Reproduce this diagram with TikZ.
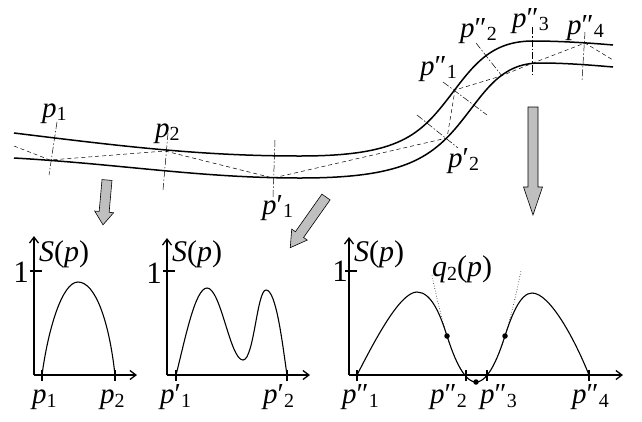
\documentclass[tikz,border=0pt]{standalone}
\usepackage{fontspec}
\setmainfont{Liberation Serif}
\usetikzlibrary{arrows.meta}
\newcommand\sbs[1]{\raisebox{-0.3ex}{\fontsize{20}{20}\selectfont #1}}
\newcommand\pl[2]{{\itshape p}#1\sbs{#2}}
\begin{document}
\begin{tikzpicture}[x=1pt,y=-1pt,
  road/.style={line width=1.5pt},
  zig/.style={line width=0.5pt, dash pattern=on 4pt off 3pt},
  normal/.style={line width=0.5pt, dash pattern=on 7pt off 2pt on 1.5pt off 2pt},
  axis/.style={line width=1.3pt,-{Straight Barb[length=6pt,width=9pt]}},
  tick/.style={line width=1.3pt},
  curve/.style={line width=1.1pt},
  lbl/.style={inner sep=0pt, anchor=base west, font=\fontsize{29}{29}\selectfont},
  slbl/.style={inner sep=0pt, anchor=base west, font=\fontsize{30}{30}\selectfont},
  one/.style={inner sep=0pt, anchor=base east, font=\fontsize{31}{31}\selectfont},
  dot/.style={circle, fill=black, inner sep=0pt, minimum size=5.5pt},
  pics/fatarrow/.style args={#1/#2}{code={
    \draw[fill=black!25, line width=0.6pt] (0,-5) -- ({#1-#2},-5) -- ({#1-#2},-9.5) -- (#1,0) -- ({#1-#2},9.5) -- ({#1-#2},5) -- (0,5) -- cycle;}}
]
\useasboundingbox (0,0) rectangle (642,421);

% ---------------- road ----------------
\coordinate (u0) at (14,133);
\coordinate (u1) at (300,156);
\coordinate (u2) at (450,96);
\coordinate (u3) at (533,41);
\coordinate (u4) at (613,45);
\coordinate (l0) at (14,158);
\coordinate (l1) at (300,178);
\coordinate (l2) at (460,123);
\coordinate (l3) at (540,63);
\coordinate (l4) at (613,67);
\draw[road] (u0) .. controls (120,146) and (200,156) .. (u1) .. controls (400,156) and (420,135) .. (u2) .. controls (473,66) and (490,41) .. (u3) .. controls (560,41) and (590,43) .. (u4);
\draw[road] (l0) .. controls (120,164) and (200,178) .. (l1) .. controls (400,178) and (430,160) .. (l2) .. controls (485,92) and (500,63) .. (l3) .. controls (565,63) and (590,65) .. (l4);

\coordinate (z0) at (14,146);
\coordinate (P1) at (50,160);
\coordinate (P2) at (165,151);
\coordinate (Q1) at (273,178);
\coordinate (Q2) at (447,138);
\coordinate (R1) at (455,90);
\coordinate (R2) at (501,76);
\coordinate (R3) at (533,63);
\coordinate (R4) at (585,43);
\coordinate (z9) at (613,60);
\draw[zig] (z0) -- (P1) -- (P2) -- (Q1) -- (Q2) -- (R1) -- (R2) -- (R3) -- (R4) -- (z9);

% normals
\coordinate (n1a) at (57,122); \coordinate (n1b) at (49,175);
\coordinate (n2a) at (168,133); \coordinate (n2b) at (163,190);
\coordinate (n3a) at (275,140); \coordinate (n3b) at (273,197);
\coordinate (n4a) at (417,115); \coordinate (n4b) at (458,148);
\coordinate (n5a) at (443,82); \coordinate (n5b) at (487,115);
\coordinate (n6a) at (476,43); \coordinate (n6b) at (502,76);
\coordinate (n7a) at (532,27); \coordinate (n7b) at (532,75);
\coordinate (n8a) at (585,32); \coordinate (n8b) at (582,80);
\foreach \k in {1,...,8} {\draw[normal] (n\k a) -- (n\k b);}

% labels on the road
\node[lbl] (tp1) at (42,117) {\pl{}{1}};
\node[lbl] (tp2) at (155,137) {\pl{}{2}};
\node[lbl] (tq1) at (262,214) {\pl{′}{1}};
\node[lbl] (tq2) at (448,167) {\pl{′}{2}};
\node[lbl] (tr1) at (420,75) {\pl{″}{1}};
\node[lbl] (tr2) at (460,37) {\pl{″}{2}};
\node[lbl] (tr3) at (512,27) {\pl{″}{3}};
\node[lbl] (tr4) at (567,34) {\pl{″}{4}};

% fat arrows
\pic[rotate=-95.1] at (107,180) {fatarrow=45/13};
\pic[rotate=-125.2] at (326,197) {fatarrow=62/16};
\pic[rotate=-90] at (533,107) {fatarrow=108/28};

% ---------------- graph 1 ----------------
\coordinate (o1) at (34,375);
\coordinate (x1) at (137,375);
\coordinate (y1) at (34,236);
\draw[axis] (o1) -- (x1);
\draw[axis] (o1) -- (y1);
\draw[tick] (30,271) -- (42,271);
\draw[tick] (42,370) -- (42,381);
\draw[tick] (115,370) -- (115,381);
\draw[curve] (42,375) .. controls (48,330) and (62,282) .. (78,282) .. controls (95,282) and (109,320) .. (115,375);
\node[one] (one1) at (29,282) {1};
\node[slbl] (s1) at (39,261) {\textit{S}(\textit{p})};
\node[lbl] (b11) at (32,403) {\pl{}{1}};
\node[lbl] (b12) at (100,403) {\pl{}{2}};

% ---------------- graph 2 ----------------
\coordinate (o2) at (167,375);
\coordinate (x2) at (310,375);
\coordinate (y2) at (167,238);
\draw[axis] (o2) -- (x2);
\draw[axis] (o2) -- (y2);
\draw[tick] (163,271) -- (175,271);
\draw[tick] (176,370) -- (176,381);
\draw[tick] (287,370) -- (287,381);
\draw[curve] (176,375) .. controls (185,340) and (195,288) .. (207,288) .. controls (221,288) and (230,360) .. (243,360) .. controls (254,360) and (257,290) .. (266,290) .. controls (276,290) and (282,340) .. (287,375);
\node[one] (one2) at (162,283) {1};
\node[slbl] (s2) at (172,261) {\textit{S}(\textit{p})};
\node[lbl] (b21) at (160,403) {\pl{′}{1}};
\node[lbl] (b22) at (263,403) {\pl{′}{2}};

% ---------------- graph 3 ----------------
\coordinate (o3) at (349,375);
\coordinate (x3) at (623,375);
\coordinate (y3) at (349,237);
\draw[axis] (o3) -- (x3);
\draw[axis] (o3) -- (y3);
\draw[tick] (345,271) -- (357,271);
\foreach \t in {357,466,487,589} {\draw[tick] (\t,370) -- (\t,381);}
\draw[line width=0.6pt, dotted] plot[domain=432:521, samples=40] (\x, {382-0.055*(\x-476)*(\x-476)});
\draw[curve] (357,375) .. controls (375,340) and (400,292) .. (417,292) .. controls (432,292) and (441,317) .. (447,336);
\draw[curve] plot[domain=447:505, samples=30] (\x, {382-0.055*(\x-476)*(\x-476)});
\draw[curve] (505,336) .. controls (511,317) and (520,293) .. (532,293) .. controls (550,293) and (575,340) .. (589,375);
\node[dot] (d1) at (447,336) {};
\node[dot] (d2) at (476,382) {};
\node[dot] (d3) at (505,336) {};
\node[one] (one3) at (348,281) {1};
\node[slbl] (s3) at (354,261) {\textit{S}(\textit{p})};
\node[slbl] (q2) at (432,276) {\textit{q}\sbs{2}(\textit{p})};
\node[lbl] (b31) at (342,403) {\pl{″}{1}};
\node[lbl] (b32) at (430,403) {\pl{″}{2}};
\node[lbl] (b33) at (480,403) {\pl{″}{3}};
\node[lbl] (b34) at (572,403) {\pl{″}{4}};
\end{tikzpicture}
\end{document}
